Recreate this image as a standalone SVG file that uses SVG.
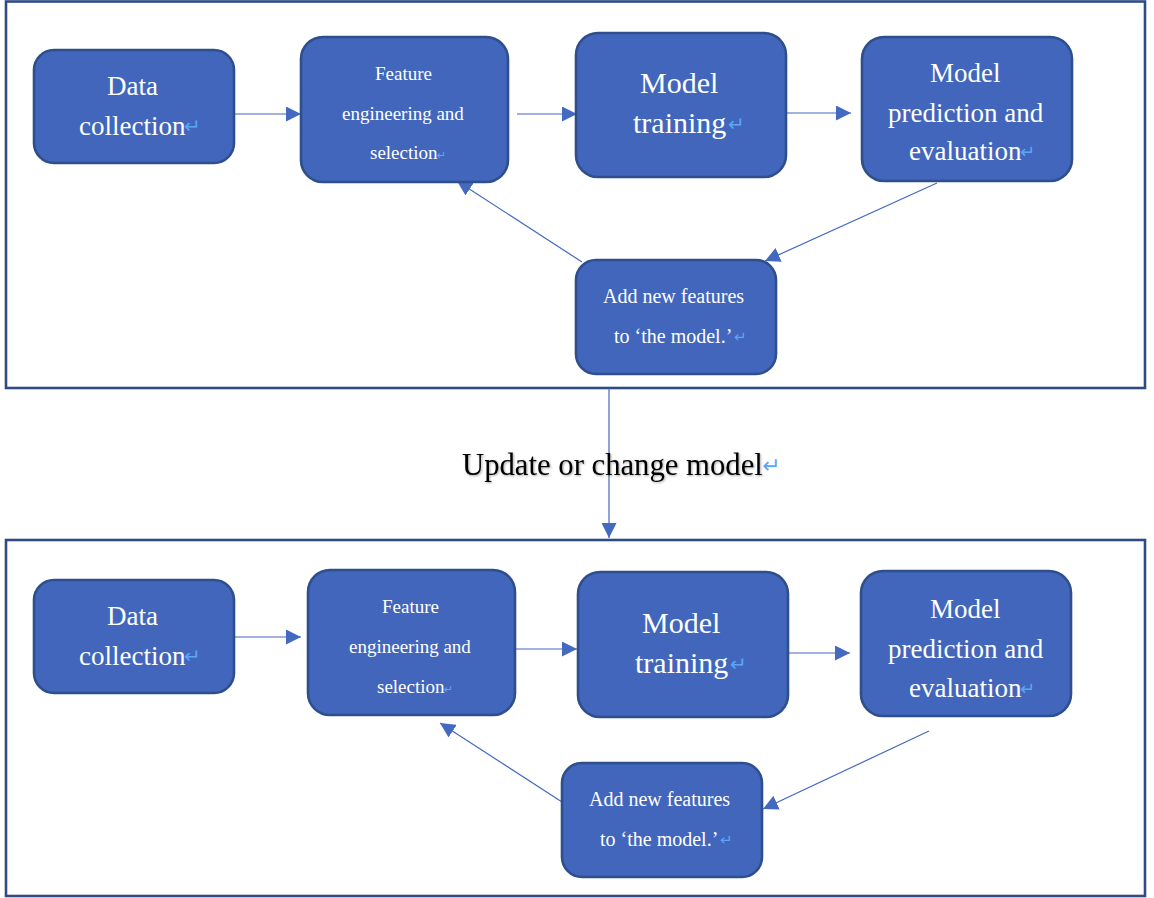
<svg xmlns="http://www.w3.org/2000/svg" width="1154" height="898" viewBox="0 0 1154 898">
<defs>
<style>
.frame{fill:#fff;stroke:#2F4B86;stroke-width:2.6}
.node{fill:#4166BC;stroke:#2F4F8C;stroke-width:2.6}
.t{font-family:"Liberation Serif","Times New Roman",serif;fill:#fff}
.pm{font-family:"DejaVu Sans",sans-serif;fill:#5AA6F5}
.conn{stroke:#4369C1;stroke-width:1.2;fill:none}
.s19{font-size:19px}.s20{font-size:20px}.s27{font-size:27px}.s30{font-size:30px}
</style>
<marker id="ah" markerUnits="userSpaceOnUse" markerWidth="15" markerHeight="15" refX="15" refY="7.5" orient="auto" viewBox="0 0 15 15">
<path d="M0,0 L15,7.5 L0,15 Z" fill="#4369C1"/>
</marker>
<filter id="sh" x="-5%" y="-30%" width="110%" height="160%">
<feDropShadow dx="1" dy="1" stdDeviation="1" flood-color="#000" flood-opacity="0.35"/>
</filter>
</defs>
<rect width="1154" height="898" fill="#fff"/>
<g id="frame-top"><rect class="frame" x="6" y="1.5" width="1139" height="386.5"/></g>
<g id="frame-bottom"><rect class="frame" x="6" y="540" width="1139" height="356"/></g>

<g id="connectors">
<line class="conn" x1="234" y1="114" x2="301" y2="114" marker-end="url(#ah)"/>
<line class="conn" x1="517" y1="114" x2="577" y2="114" marker-end="url(#ah)"/>
<line class="conn" x1="787" y1="113" x2="851" y2="113" marker-end="url(#ah)"/>
<line class="conn" x1="937" y1="183" x2="765" y2="261" marker-end="url(#ah)"/>
<line class="conn" x1="582" y1="262" x2="457" y2="181" marker-end="url(#ah)"/>
<line class="conn" x1="609" y1="388" x2="609" y2="538" marker-end="url(#ah)"/>
<line class="conn" x1="234" y1="637" x2="301" y2="637" marker-end="url(#ah)"/>
<line class="conn" x1="515" y1="649" x2="577" y2="649" marker-end="url(#ah)"/>
<line class="conn" x1="788" y1="653" x2="850" y2="653" marker-end="url(#ah)"/>
<line class="conn" x1="929" y1="731" x2="763" y2="809" marker-end="url(#ah)"/>
<line class="conn" x1="562" y1="802" x2="440" y2="723" marker-end="url(#ah)"/>
</g>

<g id="label-update">
<text x="462" y="475" font-family="Liberation Serif, Times New Roman, serif" font-size="30.7" fill="#000" filter="url(#sh)">Update or change model</text>
<text class="pm" x="762" y="473" font-size="22">↵</text>
</g>

<g id="t-data">
<rect class="node" x="34" y="50" width="200" height="113" rx="20"/>
<text class="t s27" x="107" y="95">Data</text>
<text class="t s27" x="79" y="135">collection</text>
<text class="pm" x="184" y="133" font-size="20">↵</text>
</g>
<g id="t-feature">
<rect class="node" x="301" y="37" width="207" height="145" rx="22"/>
<text class="t s19" x="375" y="80">Feature</text>
<text class="t s19" x="342" y="120">engineering and</text>
<text class="t s19" x="370" y="159">selection</text>
<text class="pm" x="437" y="159" font-size="11">↵</text>
</g>
<g id="t-training">
<rect class="node" x="576" y="33" width="210" height="144" rx="22"/>
<text class="t s30" x="640" y="93">Model</text>
<text class="t s30" x="633" y="133">training</text>
<text class="pm" x="728" y="131" font-size="20">↵</text>
</g>
<g id="t-prediction">
<rect class="node" x="862" y="37" width="210" height="144" rx="22"/>
<text class="t s27" x="930" y="82">Model</text>
<text class="t s27" x="888" y="122">prediction and</text>
<text class="t s27" x="909" y="160">evaluation</text>
<text class="pm" x="1020" y="158" font-size="18">↵</text>
</g>
<g id="t-add">
<rect class="node" x="576" y="260" width="200" height="114" rx="20"/>
<text class="t s20" x="603" y="303">Add new features</text>
<text class="t s20" x="614" y="343">to ‘the model.’</text>
<text class="pm" x="734" y="342" font-size="15">↵</text>
</g>

<g id="b-data">
<rect class="node" x="34" y="580" width="200" height="113" rx="20"/>
<text class="t s27" x="107" y="625">Data</text>
<text class="t s27" x="79" y="665">collection</text>
<text class="pm" x="184" y="663" font-size="20">↵</text>
</g>
<g id="b-feature">
<rect class="node" x="308" y="570" width="207" height="145" rx="22"/>
<text class="t s19" x="382" y="613">Feature</text>
<text class="t s19" x="349" y="653">engineering and</text>
<text class="t s19" x="377" y="693">selection</text>
<text class="pm" x="444" y="693" font-size="11">↵</text>
</g>
<g id="b-training">
<rect class="node" x="578" y="572" width="210" height="145" rx="22"/>
<text class="t s30" x="642" y="633">Model</text>
<text class="t s30" x="635" y="673">training</text>
<text class="pm" x="730" y="671" font-size="20">↵</text>
</g>
<g id="b-prediction">
<rect class="node" x="861" y="571" width="210" height="145" rx="22"/>
<text class="t s27" x="930" y="618">Model</text>
<text class="t s27" x="888" y="658">prediction and</text>
<text class="t s27" x="909" y="697">evaluation</text>
<text class="pm" x="1020" y="695" font-size="18">↵</text>
</g>
<g id="b-add">
<rect class="node" x="562" y="763" width="200" height="114" rx="20"/>
<text class="t s20" x="589" y="806">Add new features</text>
<text class="t s20" x="600" y="846">to ‘the model.’</text>
<text class="pm" x="720" y="845" font-size="15">↵</text>
</g>
</svg>
